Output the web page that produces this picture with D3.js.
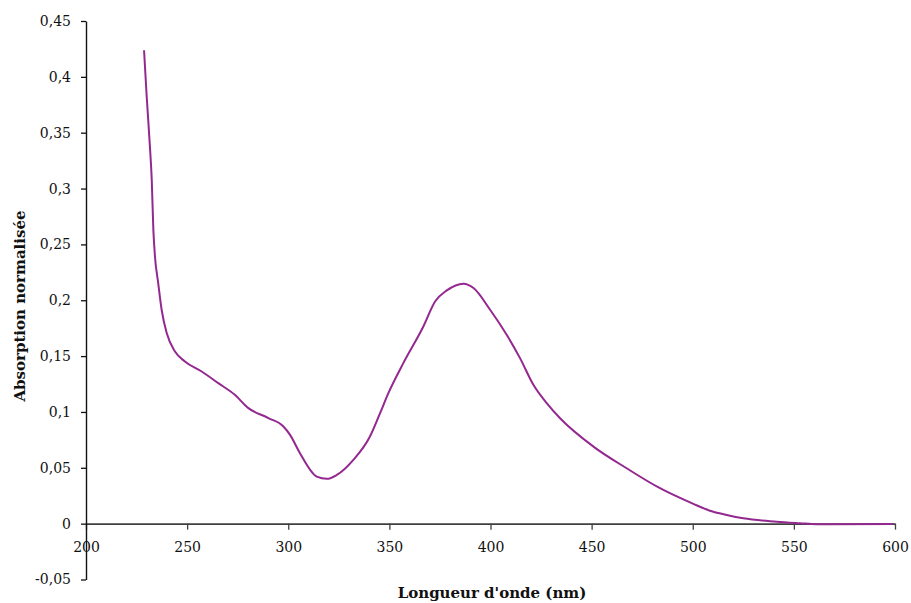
<!DOCTYPE html>
<html>
<head>
<meta charset="utf-8">
<script src="https://cdn.jsdelivr.net/npm/d3@7"></script>
<style>
  html, body { margin: 0; padding: 0; background: #fff; }
  svg { display: block; }
</style>
</head>
<body>
<svg id="chart" width="911" height="603"></svg>
<script>
// Wavelength (nm)
const wavelength = [228.7, 230.0, 231.6, 232.5, 233.3, 234.1, 235.7, 237.4, 239.9, 244.0,
  248.9, 257.2, 265.4, 273.6, 280.3, 290.2, 297.6, 300.9, 305.8, 314.1,
  319.1, 324.0, 332.2, 340.4, 345.4, 349.5, 356.9, 366.8, 372.6, 378.4,
  386.6, 391.6, 399.8, 408.0, 414.6, 421.2, 427.8, 434.4, 450.9, 467.3,
  483.8, 500.3, 508.5, 516.8, 525.0, 541.5, 553.0, 561.2, 569.3, 599.0];
// Normalised absorption
const absorbance = [0.4238, 0.3826, 0.3378, 0.3080, 0.2632, 0.2392, 0.2154, 0.1915, 0.1706, 0.1541,
  0.1452, 0.1362, 0.1258, 0.1153, 0.1034, 0.0945, 0.0870, 0.0795, 0.0631, 0.0421,
  0.0401, 0.0436, 0.0571, 0.0780, 0.0989, 0.1168, 0.1437, 0.1765, 0.1989, 0.2088,
  0.2148, 0.2109, 0.1915, 0.1691, 0.1482, 0.1243, 0.1079, 0.0944, 0.0690, 0.0496,
  0.0317, 0.0177, 0.0116, 0.0078, 0.0048, 0.0018, 0.0004, -0.0005, -0.0005, -0.0003];

const xTicks = [200, 250, 300, 350, 400, 450, 500, 550, 600];
const yTicks = [-0.05, 0, 0.05, 0.1, 0.15, 0.2, 0.25, 0.3, 0.35, 0.4, 0.45];
const yTickLabels = ["-0,05", "0", "0,05", "0,1", "0,15", "0,2", "0,25", "0,3", "0,35", "0,4", "0,45"];
const xTitle = "Longueur d'onde (nm)";
const yTitle = "Absorption normalisée";

const svg = d3.select("#chart");
const FONT = "'DejaVu Serif', serif";

const x = d3.scaleLinear().domain([200, 600]).range([86, 895]);
const y = d3.scaleLinear().domain([-0.05, 0.45]).range([579.5, 21]);

// X axis at y = 0
const xAxis = svg.append("g")
  .attr("transform", `translate(0,${y(0)})`)
  .call(d3.axisBottom(x).tickValues(xTicks).tickSize(6).tickPadding(12).tickSizeOuter(0).tickFormat(d3.format("d")));
xAxis.select(".domain").attr("stroke", "#404040").attr("stroke-width", 1.6);
xAxis.selectAll(".tick line").attr("stroke", "#404040").attr("stroke-width", 1.3);
xAxis.selectAll("text").attr("font-family", FONT).attr("font-size", 14).attr("fill", "#111");

// Y axis
const yAxis = svg.append("g")
  .attr("transform", `translate(${x(200)},0)`)
  .call(d3.axisLeft(y).tickValues(yTicks).tickSize(5).tickPadding(10).tickSizeOuter(0)
    .tickFormat((d, i) => yTickLabels[i]));
yAxis.select(".domain").attr("stroke", "#111").attr("stroke-width", 1.4);
yAxis.selectAll(".tick line").attr("stroke", "#111").attr("stroke-width", 1.3);
yAxis.selectAll("text").attr("font-family", FONT).attr("font-size", 14).attr("fill", "#111");

// Curve
const pts = wavelength.map((w, i) => [w, absorbance[i]]);
svg.append("path")
  .datum(pts)
  .attr("fill", "none")
  .attr("stroke", "#93288F")
  .attr("stroke-width", 2)
  .attr("d", d3.line().x(d => x(d[0])).y(d => y(d[1])).curve(d3.curveMonotoneX));

// Titles
svg.append("text")
  .attr("x", 492).attr("y", 598)
  .attr("text-anchor", "middle")
  .attr("font-family", FONT).attr("font-size", 15).attr("font-weight", "bold")
  .attr("fill", "#111")
  .text(xTitle);

svg.append("text")
  .attr("transform", "translate(25,306) rotate(-90)")
  .attr("text-anchor", "middle")
  .attr("font-family", FONT).attr("font-size", 15).attr("font-weight", "bold")
  .attr("fill", "#111")
  .text(yTitle);
</script>
</body>
</html>
